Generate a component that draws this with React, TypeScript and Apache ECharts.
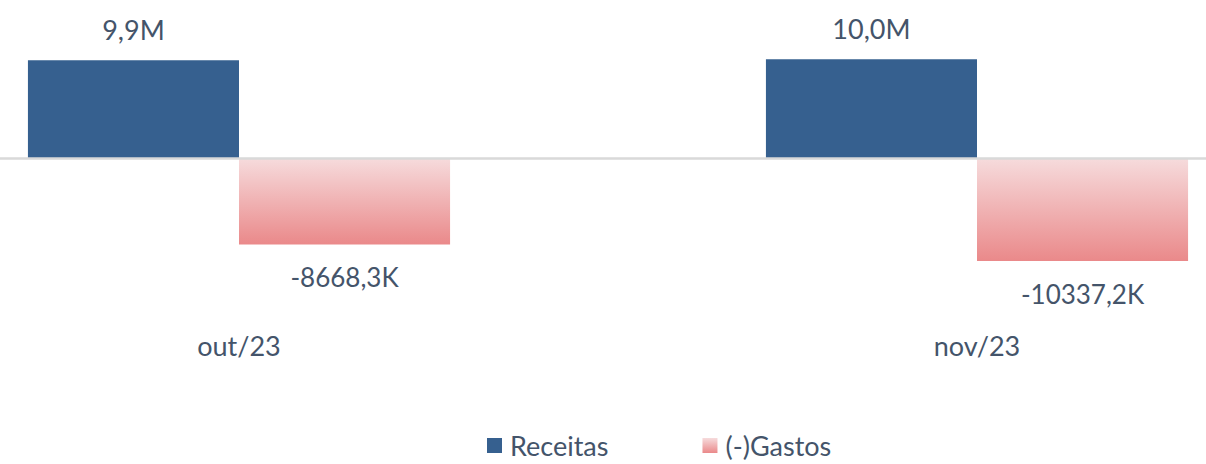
import React, { useEffect, useRef } from "react";
import * as echarts from "echarts";

const categories = ["out/23", "nov/23"];
const receitas = [9900000, 10000000];
const gastos = [-8668300, -10337200];
const seriesNames = ["Receitas", "(-)Gastos"];

const TEXT = "#44546A";
const FONT = "Lato, 'Open Sans', sans-serif";

const fmtM = (v: number) => (v / 1e6).toFixed(1).replace(".", ",") + "M";
const fmtK = (v: number) => (v / 1e3).toFixed(1).replace(".", ",") + "K";

export default function App() {
  const ref = useRef<HTMLDivElement>(null);
  useEffect(() => {
    if (!ref.current) return;
    const chart = echarts.init(ref.current, null, { renderer: "svg" });
    const pink = new echarts.graphic.LinearGradient(0, 0, 0, 1, [
      { offset: 0, color: "#F6DBDC" },
      { offset: 1, color: "#EA898A" },
    ]);
    chart.setOption({
      animation: false,
      textStyle: { fontFamily: FONT },
      legend: {
        left: 487,
        top: 432,
        padding: 0,
        itemWidth: 15,
        itemHeight: 15,
        itemGap: 94,
        icon: "rect",
        textStyle: { fontSize: 27, color: TEXT, fontFamily: FONT, padding: [0, 0, 0, 3] },
        data: seriesNames,
      },
      grid: {
        left: -130,
        right: -140,
        top: 39.5,
        bottom: 134,
        outerBoundsMode: "none",
        containLabel: false,
      },
      xAxis: {
        type: "category",
        data: categories,
        position: "bottom",
        axisLine: { show: false, onZero: false },
        axisTick: { show: false },
        splitLine: { show: false },
        axisLabel: { fontSize: 27, color: TEXT, fontFamily: FONT, margin: 2 },
      },
      yAxis: {
        type: "value",
        min: -17300000,
        max: 12000000,
        show: false,
        splitLine: { show: false },
      },
      series: [
        {
          name: seriesNames[0],
          type: "bar",
          data: receitas,
          barGap: "0%",
          barCategoryGap: "42.8%",
          itemStyle: { color: "#36608F" },
          label: {
            show: true,
            position: "top",
            distance: 17,
            formatter: (p: any) => fmtM(p.value),
            fontSize: 27,
            color: TEXT,
            fontFamily: FONT,
          },
          markLine: {
            silent: true,
            symbol: "none",
            label: { show: false },
            lineStyle: { color: "#D9D9D9", width: 2.5, type: "solid" },
            data: [{ yAxis: 0 }],
          },
        },
        {
          name: seriesNames[1],
          type: "bar",
          data: gastos,
          barGap: "0%",
          barCategoryGap: "42.8%",
          itemStyle: { color: pink },
          label: {
            show: true,
            position: "bottom",
            distance: 20,
            formatter: (p: any) => fmtK(p.value),
            fontSize: 26,
            color: TEXT,
            fontFamily: FONT,
          },
        },
      ],
    });
    return () => chart.dispose();
  }, []);
  return (
    <div
      ref={ref}
      style={{ position: "absolute", left: 0, top: 0, width: 1206, height: 464 }}
    />
  );
}
